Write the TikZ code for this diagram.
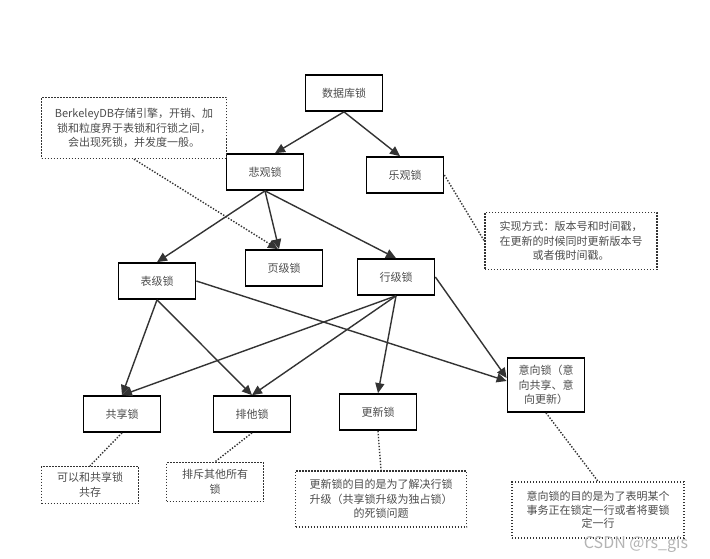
\documentclass[tikz,border=0pt]{standalone}
\usepackage{fontspec}
\setmainfont{Noto Sans CJK SC}
\usepackage{tikz}
\usetikzlibrary{arrows.meta}
\definecolor{ink}{HTML}{333333}
\definecolor{txt}{HTML}{4D4D4D}
\definecolor{mark}{HTML}{B4B4B4}

\begin{document}
\begin{tikzpicture}[
        x=1pt,y=-1pt,
        font=\fontsize{11}{14.5}\selectfont,
        box/.style={draw=black,line width=1.7pt,fill=white,text=txt,minimum width=77pt,minimum height=36pt,inner sep=2pt},
        memo/.style={draw=ink,line width=1.4pt,dash pattern=on 1.4pt off 1.6pt,text=txt,align=center,inner sep=2pt},
        arr/.style={draw=ink,line width=1.4pt,-{Triangle[length=10pt,width=9pt]}},
        dots/.style={draw=ink,line width=1.4pt,dash pattern=on 1.4pt off 1.6pt}
      ]
      \useasboundingbox[fill=white] (0,0) rectangle (710,559);
      \node[box] (sjk) at (344,93) {数据库锁};
      \node[box] (bg) at (265,172) {悲观锁};
      \node[box] (lg) at (405,175) {乐观锁};
      \node[box] (yj) at (284,268) {页级锁};
      \node[box] (bj) at (157,281) {表级锁};
      \node[box] (hj) at (396,277) {行级锁};
      \node[box] (gx) at (122,414) {共享锁};
      \node[box] (px) at (252,414) {排他锁};
      \node[box] (gxs) at (378,412) {更新锁};
      \node[box,minimum height=54pt,align=center] (yx) at (546,385) {意向锁（意\\向共享、意\\向更新）};

      \node[memo,minimum width=185pt,minimum height=61pt] (bdbn) at (134,128) {BerkeleyDB存储引擎，开销、加\\锁和粒度界于表锁和行锁之间，\\会出现死锁，并发度一般。};
      \node[memo,minimum width=172pt,minimum height=57pt] (lgn) at (571,241) {实现方式：版本号和时间戳，\\在更新的时候同时更新版本号\\或者俄时间戳。};
      \node[memo,minimum width=97pt,minimum height=37pt] (gxn) at (90,485) {可以和共享锁\\共存};
      \node[memo,minimum width=97pt,minimum height=39pt] (pxn) at (215,482) {排斥其他所有\\锁};
      \node[memo,minimum width=171pt,minimum height=56pt] (gxsn) at (381,499) {更新锁的目的是为了解决行锁\\升级（共享锁升级为独占锁）\\的死锁问题};
      \node[memo,minimum width=172pt,minimum height=56pt,font=\fontsize{11}{13.5}\selectfont] (yxn) at (598,510) {意向锁的目的是为了表明某个\\事务正在锁定一行或者将要锁\\定一行};

      \draw[arr] (sjk.south) -- ([xshift=10pt]bg.north);
      \draw[arr] (sjk.south) -- ([xshift=-5pt]lg.north);
      \draw[arr] (bg.south) -- (bj.north);
      \draw[arr] (bg.south) -- ([xshift=-5pt]yj.north);
      \draw[arr] (bg.south) -- (hj.north);
      \draw[arr] (bj.south) -- (gx.north);
      \draw[arr] (bj.south) -- (px.north);
      \draw[arr] (bj.east) -- ([yshift=4pt]yx.west);
      \draw[arr] (hj.south) -- (gx.north);
      \draw[arr] (hj.south) -- (px.north);
      \draw[arr] (hj.south) -- (gxs.north);
      \draw[arr] (hj.east) -- ([yshift=7pt]yx.west);

      \draw[dots,-{Triangle[length=10pt,width=9pt]}] (bdbn.south) -- ([xshift=-6pt]yj.north);
      \draw[dots] (lg.east) -- (lgn.west);
      \draw[dots] (gx.south) -- (gxn.north);
      \draw[dots] (px.south) -- (pxn.north);
      \draw[dots] (gxs.south) -- (gxsn.north);
      \draw[dots] (yx.south) -- (yxn.north);

      \node[text=mark,font=\fontsize{16}{18}\selectfont,inner sep=0pt] (wm) at (636,544) {CSDN @rs\_gis};
    \end{tikzpicture}
\end{document}
